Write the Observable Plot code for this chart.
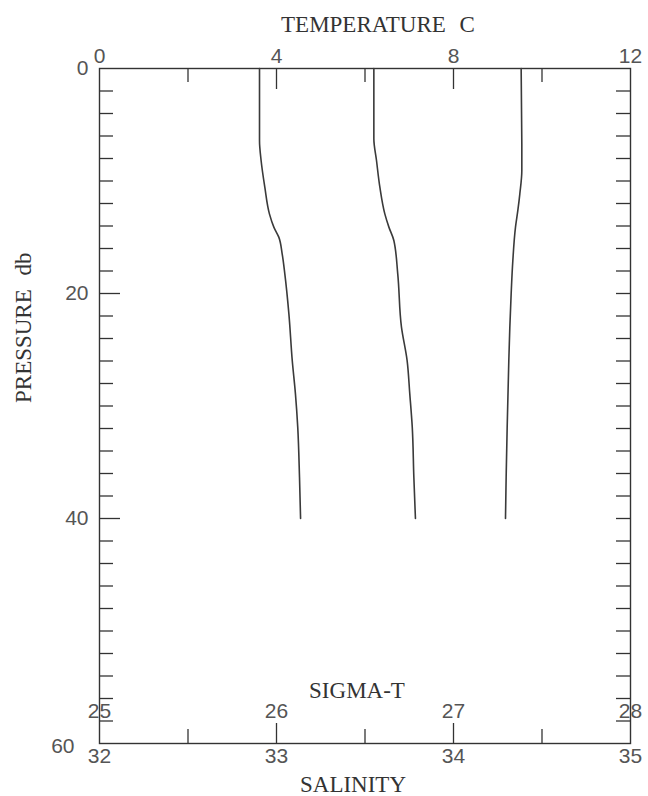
<!DOCTYPE html>
<html>
<head>
<meta charset="utf-8">
<script src="https://cdn.jsdelivr.net/npm/d3@7"></script>
<script src="https://cdn.jsdelivr.net/npm/@observablehq/plot@0.6"></script>
<style>
  html, body { margin: 0; padding: 0; background: #fff; }
</style>
</head>
<body>
<div id="chart"></div>
<script>
// ---- Data ----
// Sigma-T profile
const sigmaPressure = [0, 6.4, 8.18, 10.55, 12.92, 14.10, 14.99, 16.47, 18.25, 21.81, 25.96, 28.92, 31.88, 36.33, 40];
const sigmaValues   = [25.904, 25.904, 25.913, 25.934, 25.960, 25.985, 26.013, 26.032, 26.047, 26.070, 26.089, 26.107, 26.120, 26.130, 26.136];
// Salinity profile
const salPressure = [0, 6.25, 8.18, 10.55, 12.92, 14.10, 15.29, 18.25, 22.99, 25.96, 28.92, 31.88, 36.33, 40];
const salValues   = [33.550, 33.550, 33.565, 33.584, 33.612, 33.635, 33.663, 33.685, 33.706, 33.738, 33.753, 33.767, 33.776, 33.785];
// Temperature profile
const tempPressure = [0, 6.70, 9.07, 11.14, 12.62, 14.10, 17.07, 20.03, 22.99, 25.96, 31.88, 36.33, 40];
const tempValues   = [9.529, 9.544, 9.544, 9.499, 9.454, 9.401, 9.341, 9.303, 9.273, 9.250, 9.213, 9.190, 9.175];

// Axes
const tempLabels = [0, 4, 8, 12];
const tempMajorTicks = [4, 8];
const tempMinorTicks = [2, 6, 10];
const pressureLabels = [0, 20, 40];
const pressureLastLabel = [60];
const pressureMajorTicks = [20, 40];
const pressureMinorTicks = d3.range(2, 60, 2).filter(d => d % 20 !== 0);
const salinityLabels = [32, 33, 34, 35];
const salinityMajorTicks = [33, 34];
const salinityMinorTicks = [32.5, 33.5, 34.5];
const sigmaLabels = [25, 26, 27, 28];

// ---- Mapping of the bottom scales onto the shared x (temperature) scale ----
const salToX = s => (s - 32) * 4;   // 32..35 -> 0..12
const sigToX = s => (s - 25) * 4;   // 25..28 -> 0..12

const sigmaData = sigmaPressure.map((p, i) => ({p, x: sigToX(sigmaValues[i])}));
const salData = salPressure.map((p, i) => ({p, x: salToX(salValues[i])}));
const tempData = tempPressure.map((p, i) => ({p, x: tempValues[i]}));

const W = 648, H = 796;
const mL = 99, mR = 18, mT = 68, mB = 53;
const FW = W - mL - mR, FH = H - mT - mB;
const ink = "#333";
const digitColor = "#555";
const serif = "Liberation Serif";
const sans = "Liberation Sans";

const chart = Plot.plot({
  width: W,
  height: H,
  marginLeft: mL,
  marginRight: mR,
  marginTop: mT,
  marginBottom: mB,
  style: {background: "#fff", fontFamily: sans, fontSize: "21px", color: ink},
  x: {domain: [0, 12], axis: null},
  y: {domain: [0, 60], reverse: true, axis: null},
  marks: [
    Plot.frame({stroke: ink, strokeWidth: 1.4}),
    // top ticks (temperature), inward
    Plot.ruleX(tempMajorTicks, {x: d => d, insetBottom: FH - 21, stroke: ink, strokeWidth: 1.3}),
    Plot.ruleX(tempMinorTicks, {x: d => d, insetBottom: FH - 14, stroke: ink, strokeWidth: 1.3}),
    // bottom ticks (salinity / sigma-t), inward
    Plot.ruleX(salinityMajorTicks, {x: salToX, insetTop: FH - 20, stroke: ink, strokeWidth: 1.3}),
    Plot.ruleX(salinityMinorTicks, {x: salToX, insetTop: FH - 14, stroke: ink, strokeWidth: 1.3}),
    // left ticks (pressure)
    Plot.ruleY(pressureMajorTicks, {y: d => d, insetRight: FW - 21, stroke: ink, strokeWidth: 1.3}),
    Plot.ruleY(pressureMinorTicks, {y: d => d, insetRight: FW - 14, stroke: ink, strokeWidth: 1.3}),
    // right ticks
    Plot.ruleY(pressureMajorTicks.concat(pressureMinorTicks), {y: d => d, insetLeft: FW - 14, stroke: ink, strokeWidth: 1.3}),
    // temperature labels
    Plot.text(tempLabels, {x: d => d, frameAnchor: "top", lineAnchor: "bottom", dy: -6, text: d => String(d), fill: digitColor, fontFamily: sans, fontSize: 21}),
    // pressure labels
    Plot.text(pressureLabels, {y: d => d, frameAnchor: "left", textAnchor: "end", dx: -11, text: d => String(d), fill: digitColor, fontFamily: sans, fontSize: 21}),
    Plot.text(pressureLastLabel, {y: d => d, frameAnchor: "left", textAnchor: "end", dx: -25, dy: 3, text: d => String(d), fill: digitColor, fontFamily: sans, fontSize: 21}),
    // salinity labels (below)
    Plot.text(salinityLabels, {x: salToX, frameAnchor: "bottom", lineAnchor: "top", dy: 5, text: d => String(d), fill: digitColor, fontFamily: sans, fontSize: 21}),
    // sigma-t labels (inside, above bottom)
    Plot.text(sigmaLabels, {x: sigToX, frameAnchor: "bottom", lineAnchor: "bottom", dy: -26, text: d => String(d), fill: digitColor, fontFamily: sans, fontSize: 21}),
    // axis titles
    Plot.text(["TEMPERATURE C"], {frameAnchor: "top", lineAnchor: "bottom", dx: 13, dy: -37, text: d => d, fontFamily: serif, fontSize: 23, fill: ink}),
    Plot.text(["SIGMA-T"], {frameAnchor: "bottom", lineAnchor: "bottom", dx: -8, dy: -46, text: d => d, fontFamily: serif, fontSize: 23, fill: ink}),
    Plot.text(["SALINITY"], {frameAnchor: "bottom", lineAnchor: "bottom", dx: -12, dy: 48, text: d => d, fontFamily: serif, fontSize: 23, fill: ink}),
    Plot.text(["PRESSURE db"], {frameAnchor: "left", rotate: -90, dx: -76, dy: -3, text: d => d, fontFamily: serif, fontSize: 23, fill: ink}),
    // profiles
    Plot.line(sigmaData, {x: "x", y: "p", stroke: "#3a3a3a", strokeWidth: 1.6, curve: "monotone-y"}),
    Plot.line(salData, {x: "x", y: "p", stroke: "#3a3a3a", strokeWidth: 1.6, curve: "monotone-y"}),
    Plot.line(tempData, {x: "x", y: "p", stroke: "#3a3a3a", strokeWidth: 1.6, curve: "monotone-y"})
  ]
});

// widen word gap in two-word titles as in the reference
d3.select(chart).selectAll("text").filter(function() {
  const t = this.textContent;
  return t === "TEMPERATURE C" || t === "PRESSURE db";
}).style("word-spacing", "8px");

document.getElementById("chart").appendChild(chart);
</script>
</body>
</html>
